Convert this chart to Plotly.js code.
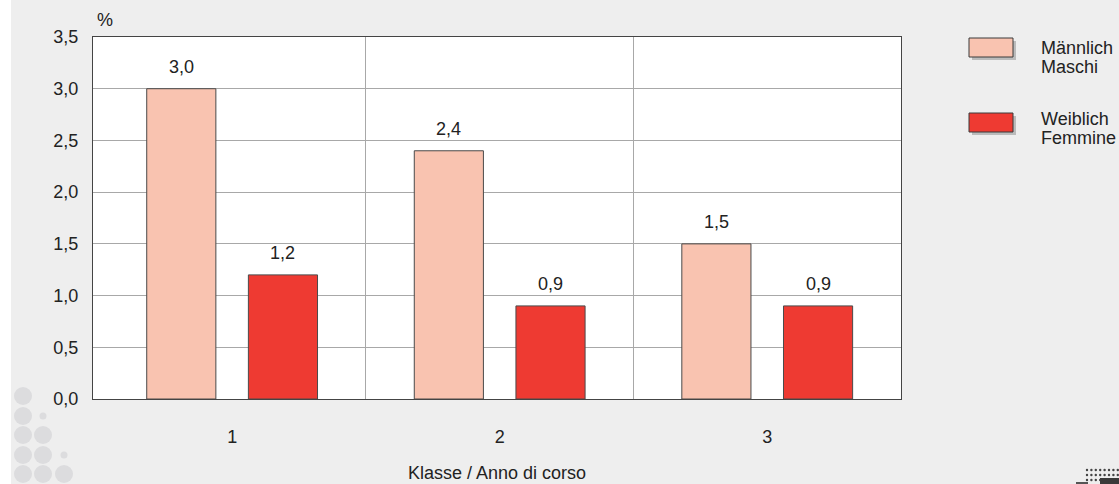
<!DOCTYPE html>
<html>
<head>
<meta charset="utf-8">
<script src="https://cdn.plot.ly/plotly-3.0.1.min.js"></script>
<style>html,body{margin:0;padding:0;background:#eeeeee;}#chart{width:1119px;height:484px;}</style>
</head>
<body>
<div id="chart"></div>
<script>
const categories = ['1', '2', '3'];
const maleValues = [3.0, 2.4, 1.5];
const femaleValues = [1.2, 0.9, 0.9];
const seriesNames = [['Männlich', 'Maschi'], ['Weiblich', 'Femmine']];
const yTicks = [0, 0.5, 1.0, 1.5, 2.0, 2.5, 3.0, 3.5];
const xTitle = 'Klasse / Anno di corso';
const yUnit = '%';

const W = 1119, H = 484;
const M = {l: 93, r: 218, t: 37, b: 85};
const PW = W - M.l - M.r, PH = H - M.t - M.b;
const px = x => (x - M.l) / PW;
const py = y => (H - M.b - y) / PH;

const colors = ['#f9c3b0', '#ee3a32'];
const font = {family: 'Liberation Sans, Arial, sans-serif', size: 18, color: '#222'};

const xs = categories.map((c, i) => i + 1);
const bargap = 0.24;
const groupOffset = (1 - bargap) / 4;

const series = [maleValues, femaleValues];
const traces = series.map((vals, k) => ({
  type: 'bar',
  x: xs,
  y: vals,
  name: seriesNames[k].join(' '),
  marker: {color: colors[k], line: {color: '#4a4a4a', width: 1}},
  hoverinfo: 'x+y+name'
}));

const shapes = [];
const annotations = [];

// value labels above bars
series.forEach((vals, k) => {
  vals.forEach((v, i) => {
    annotations.push({xref: 'x', yref: 'y', x: xs[i] + (k === 0 ? -groupOffset : groupOffset), y: v,
      text: v.toFixed(1).replace('.', ','), showarrow: false, xanchor: 'center', yanchor: 'bottom', yshift: 10, font: font});
  });
});

// left white strip
shapes.push({type: 'rect', xref: 'paper', yref: 'paper', x0: px(0), x1: px(11), y0: py(H), y1: py(0), fillcolor: '#ffffff', line: {width: 0}, layer: 'below'});

// decorative circles bottom-left
const circ = [[23,396,9],[23,416,9],[43,416,3.5],[23,435,9],[43,435,9],[23,455,9],[43,455,9],[64,455,3.5],[23,474,9],[43,474,9],[64,474,9]];
circ.forEach(([cx, cy, r]) => shapes.push({type: 'circle', xref: 'paper', yref: 'paper', x0: px(cx - r), x1: px(cx + r), y0: py(cy + r), y1: py(cy - r), fillcolor: '#dcdcde', line: {width: 0}, layer: 'below'}));

// decorative dots bottom-right
[470, 475, 480].forEach(cy => {
  for (let cx = 1087; cx < 1119; cx += 4.4) {
    shapes.push({type: 'circle', xref: 'paper', yref: 'paper', x0: px(cx - 1.2), x1: px(cx + 1.2), y0: py(cy + 1.2), y1: py(cy - 1.2), fillcolor: '#444', line: {width: 0}});
  }
});
shapes.push({type: 'rect', xref: 'paper', yref: 'paper', x0: px(1100), x1: px(1119), y0: py(484), y1: py(478), fillcolor: '#3a3a3a', line: {width: 0}});
shapes.push({type: 'rect', xref: 'paper', yref: 'paper', x0: px(1076), x1: px(1088), y0: py(484), y1: py(482), fillcolor: '#555', line: {width: 0}});

// legend
const legendY = [[38, 57, 48, 67], [113, 132, 119, 138]];
seriesNames.forEach((names, k) => {
  const [y0, y1, t1, t2] = legendY[k];
  shapes.push({type: 'rect', xref: 'paper', yref: 'paper', x0: px(972), x1: px(1016), y0: py(y1 + 3), y1: py(y0 + 3), fillcolor: '#9a9a9a', line: {width: 0}, opacity: 0.6});
  shapes.push({type: 'rect', xref: 'paper', yref: 'paper', x0: px(969), x1: px(1013), y0: py(y1), y1: py(y0), fillcolor: colors[k], line: {color: '#3a3a3a', width: 1}});
  annotations.push({xref: 'paper', yref: 'paper', x: px(1039), y: py(t1), text: names[0], showarrow: false, xanchor: 'left', yanchor: 'middle', font: font});
  annotations.push({xref: 'paper', yref: 'paper', x: px(1039), y: py(t2), text: names[1], showarrow: false, xanchor: 'left', yanchor: 'middle', font: font});
});

// unit label
annotations.push({xref: 'paper', yref: 'paper', x: px(95), y: py(20), text: yUnit, showarrow: false, xanchor: 'left', yanchor: 'middle', font: font});

const layout = {
  width: W, height: H,
  margin: M,
  paper_bgcolor: '#eeeeee',
  plot_bgcolor: '#ffffff',
  separators: ',.',
  font: font,
  showlegend: false,
  barmode: 'group',
  bargap: bargap,
  bargroupgap: 0.32,
  xaxis: {
    type: 'linear',
    range: [0.48, 3.5],
    tickvals: xs,
    ticktext: categories,
    showgrid: false,
    zeroline: false,
    showline: true, mirror: true, linecolor: '#444', linewidth: 1,
    ticks: '',
    ticklabelstandoff: 21,
    tickfont: font,
    minor: {tickvals: [1.5, 2.5], showgrid: true, gridcolor: '#a8a8a8', gridwidth: 1, ticks: ''},
    title: {text: xTitle, font: font, standoff: 20}
  },
  yaxis: {
    range: [0, 3.5],
    tickvals: yTicks,
    tickformat: '.1f',
    showgrid: true, gridcolor: '#a8a8a8', gridwidth: 1,
    zeroline: false,
    showline: true, mirror: true, linecolor: '#444', linewidth: 1,
    ticks: '',
    ticklabelstandoff: 10,
    tickfont: font
  },
  shapes: shapes,
  annotations: annotations
};

Plotly.newPlot('chart', traces, layout, {displayModeBar: false, staticPlot: true});
</script>
</body>
</html>
